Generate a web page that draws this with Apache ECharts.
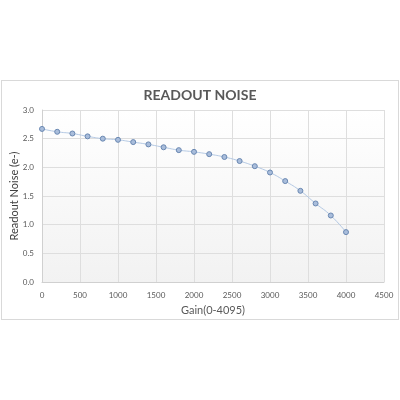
<!DOCTYPE html>
<html>
<head>
<meta charset="utf-8">
<script src="https://cdn.jsdelivr.net/npm/echarts@6/dist/echarts.min.js"></script>
<style>
  html, body { margin: 0; padding: 0; background: #fff; }
  #frame { position: absolute; left: 1px; top: 80px; width: 396px; height: 238px; border: 1px solid #d9d9d9; }
  #chart { position: absolute; left: 0; top: 0; width: 400px; height: 400px; }
</style>
</head>
<body>
<div id="frame"></div>
<div id="chart"></div>
<script>
  const gain = [0, 200, 400, 600, 800, 1000, 1200, 1400, 1600, 1800, 2000,
    2200, 2400, 2600, 2800, 3000, 3200, 3400, 3600, 3800, 4000];
  const noise = [2.67, 2.62, 2.59, 2.54, 2.50, 2.48, 2.44, 2.40, 2.35, 2.30, 2.27,
    2.23, 2.18, 2.11, 2.02, 1.91, 1.76, 1.59, 1.37, 1.16, 0.87];

  const textColor = '#595959';
  const fontFamily = 'Lato, "Open Sans", sans-serif';

  const chart = echarts.init(document.getElementById('chart'));

  chart.setOption({
    animation: false,
    textStyle: { fontFamily },
    title: {
      text: 'READOUT NOISE',
      left: 'center',
      top: 83,
      textStyle: { color: textColor, fontSize: 14, fontWeight: 'bold', fontFamily },
    },
    grid: {
      left: 42,
      right: 16,
      top: 110,
      bottom: 118,
      outerBoundsMode: 'none',
      containLabel: false,
      show: true,
      borderWidth: 0,
      backgroundColor: new echarts.graphic.LinearGradient(0, 0, 0, 1, [
        { offset: 0, color: '#ffffff' },
        { offset: 1, color: '#f2f2f2' },
      ]),
    },
    xAxis: {
      type: 'value',
      min: 0,
      max: 4500,
      interval: 500,
      name: 'Gain(0-4095)',
      nameLocation: 'middle',
      nameGap: 23,
      nameTextStyle: { color: textColor, fontSize: 11 },
      axisLine: { show: true, lineStyle: { color: '#d0d0d0' } },
      axisTick: { show: false },
      axisLabel: { color: textColor, fontSize: 8, margin: 9, formatter: (v) => String(v) },
      splitLine: { show: true, lineStyle: { color: '#dedede' } },
    },
    yAxis: {
      type: 'value',
      min: 0,
      max: 3,
      interval: 0.5,
      name: 'Readout Noise (e-)',
      nameLocation: 'middle',
      nameGap: 22,
      nameMoveOverlap: false,
      nameTextStyle: { color: '#404040', fontSize: 11 },
      axisLine: { show: true, lineStyle: { color: '#d0d0d0' } },
      axisTick: { show: false },
      axisLabel: {
        color: textColor,
        fontSize: 8,
        margin: 8,
        formatter: (v) => v.toFixed(1),
      },
      splitLine: { show: true, lineStyle: { color: '#dedede' } },
    },
    series: [
      {
        type: 'line',
        smooth: true,
        data: gain.map((g, i) => [g, noise[i]]),
        symbol: 'circle',
        symbolSize: 5,
        lineStyle: { color: '#b4c9e4', width: 1 },
        itemStyle: { color: '#a9bddb', borderColor: '#6a88b2', borderWidth: 1 },
      },
    ],
  });
</script>
</body>
</html>
